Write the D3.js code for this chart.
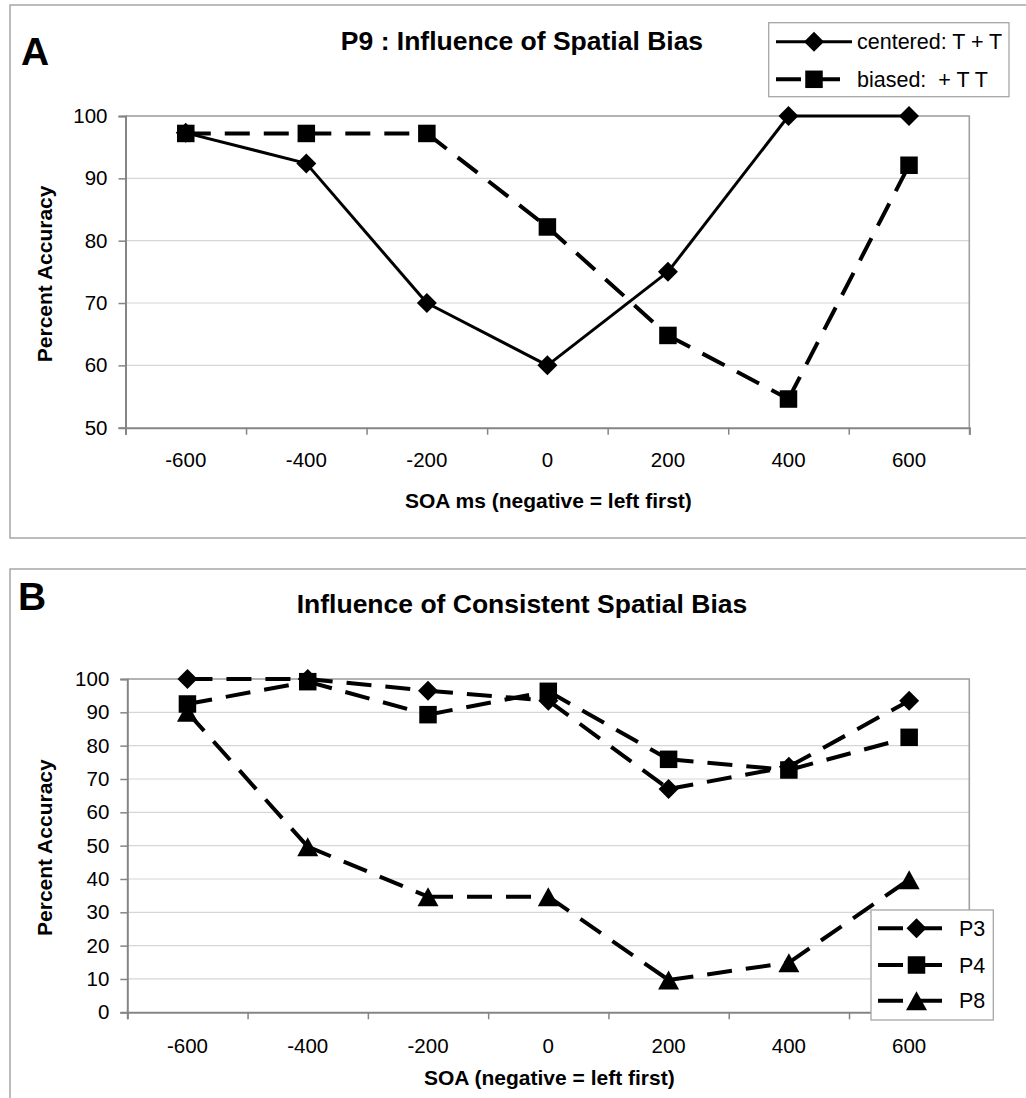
<!DOCTYPE html>
<html>
<head>
<meta charset="utf-8">
<script src="https://cdn.jsdelivr.net/npm/d3@7"></script>
<style>
  html, body { margin: 0; padding: 0; background: #fff; }
  svg { display: block; font-family: "Liberation Sans", Arial, sans-serif; }
</style>
</head>
<body>
<script>
// ---------- data ----------
const categories = [-600, -400, -200, 0, 200, 400, 600];
const centeredA = [97.3, 92.4, 70, 60, 75, 100, 100];
const biasedA   = [97.2, 97.2, 97.2, 82.2, 64.8, 54.6, 92.1];
const p3 = [100, 100, 96.5, 93.5, 67, 73.7, 93.5];
const p4 = [92.5, 99.2, 89.3, 96.3, 75.9, 72.7, 82.5];
const p8 = [90, 49.7, 34.7, 34.7, 9.7, 14.9, 39.8];
const yTicksA = [50, 60, 70, 80, 90, 100];
const yTicksB = [0, 10, 20, 30, 40, 50, 60, 70, 80, 90, 100];

const W = 1026, H = 1098;
const svg = d3.select("body").append("svg").attr("width", W).attr("height", H);

function marker(g, type, cx, cy) {
  if (type === "diamond") {
    const r = 10;
    g.append("path").attr("d", `M${cx},${cy - r}L${cx + r},${cy}L${cx},${cy + r}L${cx - r},${cy}Z`).attr("fill", "#000");
  } else if (type === "square") {
    const s = 17.5;
    g.append("rect").attr("x", cx - s / 2).attr("y", cy - s / 2).attr("width", s).attr("height", s).attr("fill", "#000");
  } else if (type === "triangle") {
    const b = 21, h = 19;
    g.append("path").attr("d", `M${cx},${cy - h / 2}L${cx + b / 2},${cy + h / 2}L${cx - b / 2},${cy + h / 2}Z`).attr("fill", "#000");
  }
}

function panel(o) {
  const g = svg.append("g");
  // frame
  g.append("rect").attr("x", 10).attr("y", o.frameTop).attr("width", W + 20).attr("height", o.frameH)
    .attr("fill", "none").attr("stroke", "#a6a6a6").attr("stroke-width", 1.5);
  // panel letter
  g.append("text").attr("x", o.letterX).attr("y", o.letterY).text(o.letter)
    .attr("font-size", 39).attr("font-weight", "bold");
  // title
  g.append("text").attr("x", 522).attr("y", o.titleY).attr("text-anchor", "middle")
    .attr("font-size", o.titleSize).attr("font-weight", "bold").text(o.title);

  const x = d3.scaleBand().domain(categories).range([o.left, o.right]).padding(0);
  const xb = d3.scaleLinear().domain([0, categories.length]).range([o.left, o.right]);
  const y = d3.scaleLinear().domain(o.yDomain).range([o.bottom, o.top]);

  // gridlines
  g.append("g").selectAll("line").data(o.yTicks.filter(v => v !== o.yDomain[0])).join("line")
    .attr("x1", o.left).attr("x2", o.right).attr("y1", d => y(d)).attr("y2", d => y(d))
    .attr("stroke", "#d6d6d6").attr("stroke-width", 1.2);
  // plot border top / right
  g.append("path").attr("d", `M${o.left},${o.top}H${o.right}V${o.bottom}`)
    .attr("fill", "none").attr("stroke", "#a0a0a0").attr("stroke-width", 1.6);

  // y axis
  const ya = g.append("g").attr("transform", `translate(${o.left},0)`)
    .call(d3.axisLeft(y).tickValues(o.yTicks).tickSize(7).tickPadding(11).tickFormat(d3.format("d")));
  ya.select(".domain").attr("stroke", "#858585").attr("stroke-width", 2);
  ya.selectAll(".tick line").attr("stroke", "#858585").attr("stroke-width", 1.5);
  ya.selectAll(".tick text").attr("font-size", 20.5).attr("fill", "#000")
    .attr("font-family", "Liberation Sans, Arial, sans-serif");

  // x axis: tick marks at category boundaries
  const xm = g.append("g").attr("transform", `translate(0,${o.bottom})`)
    .call(d3.axisBottom(xb).tickValues(d3.range(categories.length + 1)).tickSize(7).tickFormat(""));
  xm.select(".domain").attr("stroke", "#858585").attr("stroke-width", 2);
  xm.selectAll(".tick line").attr("stroke", "#858585").attr("stroke-width", 1.5);
  // x labels at category centers
  const xl = g.append("g").attr("transform", `translate(0,${o.bottom})`)
    .call(d3.axisBottom(x).tickSize(0).tickPadding(o.xLabelPad));
  xl.select(".domain").remove();
  xl.selectAll(".tick text").attr("font-size", 20.5).attr("fill", "#000")
    .attr("font-family", "Liberation Sans, Arial, sans-serif");

  // axis titles
  g.append("text").attr("x", (o.left + o.right) / 2 + 1).attr("y", o.xTitleY).attr("text-anchor", "middle")
    .attr("font-size", 21).attr("font-weight", "bold").text(o.xTitle);
  g.append("text").attr("transform", `translate(52,${(o.top + o.bottom) / 2 + 2}) rotate(-90)`)
    .attr("text-anchor", "middle").attr("font-size", 21).attr("font-weight", "bold").text("Percent Accuracy");

  // series
  o.series.forEach(s => {
    const pts = categories.map((c, i) => [x(c) + x.bandwidth() / 2, y(s.values[i])]);
    const line = d3.line();
    for (let i = 0; i < pts.length - 1; i++) {
      g.append("path").attr("d", line([pts[i], pts[i + 1]])).attr("fill", "none")
        .attr("stroke", "#000").attr("stroke-width", s.dash ? 4 : 3)
        .attr("stroke-dasharray", s.dash ? "25,14" : null);
    }
    pts.forEach(p => marker(g, s.marker, p[0], p[1]));
  });

  // legend
  const L = o.legend;
  const lg = g.append("g");
  lg.append("rect").attr("x", L.x).attr("y", L.y).attr("width", L.w).attr("height", L.h)
    .attr("fill", "#fff").attr("stroke", "#a6a6a6").attr("stroke-width", 1.3);
  o.series.forEach((s, i) => {
    const ry = L.rows[i];
    lg.append("path").attr("d", `M${L.lx1},${ry}H${L.lx2}`).attr("stroke", "#000")
      .attr("stroke-width", s.dash ? 4 : 3).attr("stroke-dasharray", s.dash ? "25,14" : null);
    marker(lg, s.marker, (L.lx1 + L.lx2) / 2, ry);
    lg.append("text").attr("x", L.tx).attr("y", ry).attr("dy", "0.36em").attr("font-size", 21.5)
      .attr("xml:space", "preserve").style("white-space", "pre").text(s.name);
  });
}

panel({
  frameTop: 5, frameH: 533, letter: "A", letterX: 21, letterY: 65,
  title: "P9 : Influence of Spatial Bias", titleY: 50, titleSize: 26.5,
  left: 125.5, right: 969.3, top: 116, bottom: 427.7,
  yDomain: [50, 100], yTicks: yTicksA, xLabelPad: 25,
  xTitle: "SOA ms (negative = left first)", xTitleY: 508,
  series: [
    { name: "centered: T + T", values: centeredA, marker: "diamond", dash: false },
    { name: "biased:  + T T", values: biasedA, marker: "square", dash: true }
  ],
  legend: { x: 768.7, y: 22.7, w: 240.3, h: 74, rows: [41.7, 79.3], lx1: 776, lx2: 852, tx: 857 }
});

panel({
  frameTop: 569, frameH: 540, letter: "B", letterX: 18, letterY: 610,
  title: "Influence of Consistent Spatial Bias", titleY: 613, titleSize: 26.5,
  left: 127.3, right: 969.3, top: 679, bottom: 1012.3,
  yDomain: [0, 100], yTicks: yTicksB, xLabelPad: 26,
  xTitle: "SOA (negative = left first)", xTitleY: 1085,
  series: [
    { name: "P3", values: p3, marker: "diamond", dash: true },
    { name: "P4", values: p4, marker: "square", dash: true },
    { name: "P8", values: p8, marker: "triangle", dash: true }
  ],
  legend: { x: 871, y: 910, w: 122.3, h: 110, rows: [928.3, 965, 1000.7], lx1: 878, lx2: 955, tx: 959 }
});
</script>
</body>
</html>
